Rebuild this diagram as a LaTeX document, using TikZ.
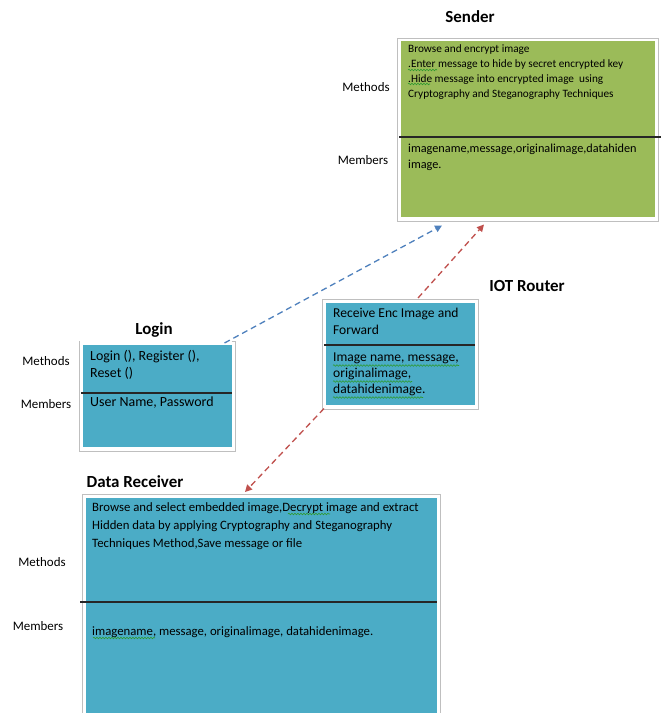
\documentclass[tikz,border=0pt]{standalone}
\usepackage{fontspec}
\setmainfont{Carlito}
\usetikzlibrary{arrows.meta,decorations.pathmorphing}
\definecolor{sgreen}{HTML}{9BBB59}
\definecolor{cblue}{HTML}{4BACC6}
\definecolor{lblue}{HTML}{4F81BD}
\definecolor{lred}{HTML}{C0504D}
\definecolor{spell}{HTML}{2E9A2E}
\begin{document}
\begin{tikzpicture}[x=1bp,y=-1bp,
 umlbox/.style={draw=white, line width=1.5bp, fill=#1, anchor=north west, inner sep=0},
 frame/.style={draw=black!25, line width=0.8bp},
 divider/.style={draw=black!85, line width=1.2bp},
 title/.style={font=\fontsize{17}{20}\selectfont\bfseries, inner sep=0},
 lbl/.style={font=\fontsize{13}{15}\selectfont, inner sep=0},
 txt/.style={anchor=north west, inner sep=0, align=left},
 squig/.style={draw=spell, line width=0.6bp, decorate, decoration={snake, segment length=3bp, amplitude=0.8bp}},
 link/.style={dash pattern=on 6bp off 4bp, line width=1.3bp, -{Triangle[length=7bp,width=7bp]}},
]
\useasboundingbox[fill=white] (0,0) rectangle (661,713);

% Sender
\node[umlbox=sgreen, minimum width=256bp, minimum height=177bp] (sender) at (399,40) {};
\draw[frame] ([shift={(-2,-2)}]sender.north west) rectangle ([shift={(2,3)}]sender.south east);
\draw[divider] (399,137) -- (661,137);
\node[title] (sendert) at (470,17) {Sender};
\node[lbl] (sm) at (366,87) {Methods};
\node[lbl] (smm) at (363,160) {Members};
\node[txt, font=\fontsize{11.3}{15}\selectfont] (stx) at (408,44.5) {Browse and encrypt image\\.Enter message to hide by secret encrypted key\\.Hide message into encrypted image\ \ using\\Cryptography and Steganography Techniques};
\node[txt, font=\fontsize{12.3}{16}\selectfont] (smx) at (408,143.5) {imagename,message,originalimage,datahiden\\image.};
\draw[squig] (408,70) -- (437,70);
\draw[squig] (408,84) -- (430,84);

% Login
\node[umlbox=cblue, minimum width=151bp, minimum height=104bp] (login) at (81,343) {};
\draw[frame] ([shift={(-2,-2)}]login.north east) -- ([shift={(2,-2)}]login.north east) |- ([shift={(-2,3)}]login.south west) |- ([shift={(-2,-2)}]login.north west);
\draw[divider] (81,393) -- (232,393);
\node[title, fill=white, minimum width=105bp, minimum height=27bp] (logint) at (154,330) {Login};
\node[lbl] (lm) at (46,361) {Methods};
\node[lbl] (lmm) at (46,404) {Members};
\node[txt, font=\fontsize{14}{17}\selectfont] (ltx) at (90,350.5) {Login (), Register (),\\Reset ()};
\node[txt, font=\fontsize{14}{17}\selectfont] (lmx) at (90,396.5) {User Name, Password};

% IOT Router
\node[umlbox=cblue, minimum width=151bp, minimum height=104bp] (iot) at (324,301) {};
\draw[frame] ([shift={(-2,-2)}]iot.north west) rectangle ([shift={(2,3)}]iot.south east);
\draw[divider] (324,345) -- (475,345);
\node[title] (iott) at (527,286) {IOT Router};
\node[txt, font=\fontsize{13.6}{17}\selectfont] (itx) at (333,308) {Receive Enc Image and\\Forward};
\node[txt, font=\fontsize{13.6}{16}\selectfont] (imx) at (333,353) {Image name, message,\\originalimage,\\datahidenimage.};
\draw[squig] (333,365.5) -- (459,365.5);
\draw[squig] (333,381.5) -- (412,381.5);
\draw[squig] (333,397.5) -- (423,397.5);

% Data Receiver
\node[umlbox=cblue, minimum width=353bp, minimum height=230bp] (dr) at (84,496) {};
\draw[frame] ([shift={(-2,-2)}]dr.north west) rectangle ([shift={(2,3)}]dr.south east);
\draw[divider] (80,602) -- (437,602);
\node[title] (drt) at (135,482) {Data Receiver};
\node[lbl] (dm) at (42,562) {Methods};
\node[lbl] (dmm) at (38,626) {Members};
\node[txt, font=\fontsize{12.8}{18}\selectfont] (dtx) at (92,502.5) {Browse and select embedded image,Decrypt image and extract\\Hidden data by applying Cryptography and Steganography\\Techniques Method,Save message or file};
\node[txt, font=\fontsize{12.8}{18}\selectfont] (dmx) at (92,626.5) {imagename, message, originalimage, datahidenimage.};
\draw[squig] (288,514) -- (330,514);
\draw[squig] (93,638) -- (155,638);

% connectors
\draw[link, lblue] ([xshift=-9bp]login.north east) -- ([xshift=43bp,yshift=-7bp]sender.south west);
\draw[link, lred] ([xshift=94bp,yshift=3bp]iot.north west) -- ([xshift=85bp,yshift=-6bp]sender.south west);
\draw[link, lred] ([yshift=-2bp]iot.south west) -- ([xshift=161bp,yshift=4bp]dr.north west);
\end{tikzpicture}
\end{document}
